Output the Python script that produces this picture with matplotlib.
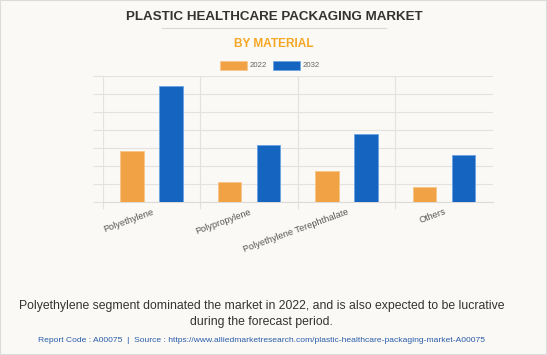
import matplotlib
matplotlib.use("Agg")
import matplotlib.pyplot as plt
import numpy as np
from matplotlib.patches import Rectangle
from matplotlib.lines import Line2D

categories = ["Polyethylene", "Polypropylene", "Polyethylene Terephthalate", "Others"]
series_names = ["2022", "2032"]
values_2022 = [2.82, 1.08, 1.73, 0.84]
values_2032 = [6.46, 3.17, 3.79, 2.60]

W, H = 547, 355
BG = "#faf9f5"
GRID = "#e3e2de"
ORANGE = "#f0a244"
BLUE = "#1565c0"

plt.rcParams["font.family"] = ["Liberation Sans", "DejaVu Sans"]

fig = plt.figure(figsize=(W / 100, H / 100), dpi=100, facecolor=BG)

def fx(px):
    return px / W

def fy(py):
    return 1 - py / H

# border
fig.add_artist(Rectangle((0, 0), 1, 1, transform=fig.transFigure, fill=False,
                         edgecolor="#dcdcdc", linewidth=1.5))

# title
fig.text(fx(274), fy(17.5), "PLASTIC HEALTHCARE PACKAGING MARKET", ha="center", va="center",
         fontsize=9.6, fontweight="heavy", color="#333333")
fig.add_artist(Line2D([fx(162), fx(386)], [fy(28.3), fy(28.3)], transform=fig.transFigure,
                      color="#d9d9d9", linewidth=0.8))
fig.text(fx(274), fy(44), "BY MATERIAL", ha="center", va="center",
         fontsize=8.6, fontweight="bold", color="#f5a623")

# axes
left, right = 103, 492.7
top, bottom = 76, 201.7
ax = fig.add_axes([fx(left), fy(bottom), fx(right - left), (bottom - top) / H])
ax.set_facecolor(BG)

x = np.arange(len(categories))
bw = 0.243
off = 0.2
ax.bar(x - off, values_2022, bw, color=ORANGE, edgecolor="#f7c68a", linewidth=0.6,
       label=series_names[0], zorder=3)
ax.bar(x + off, values_2032, bw, color=BLUE, edgecolor="#6aa3e3", linewidth=0.6,
       label=series_names[1], zorder=3)

ax.set_xlim(-0.5, 3.5)
ax.set_ylim(0, 7)
ax.set_yticks(np.arange(0, 8))
ax.yaxis.grid(True, color=GRID, linewidth=0.8, zorder=0)
ax.tick_params(axis="y", length=7, width=0.8, color=GRID, labelleft=False)

# category boundaries
bounds = [-0.5, 0.5, 1.5, 2.5]
for b in bounds:
    ax.axvline(b, color=GRID, linewidth=0.8, zorder=0)
ax.set_xticks(bounds, minor=True)
ax.tick_params(axis="x", which="minor", length=5, width=0.8, color=GRID)
ax.set_xticks(x)
ax.set_xticklabels(categories, rotation=20, ha="right", rotation_mode="anchor",
                   fontsize=6.6, color="#555555")
ax.tick_params(axis="x", which="major", length=0, pad=4)

for s in ["top", "right", "left"]:
    ax.spines[s].set_visible(False)
ax.spines["bottom"].set_color("#dcdbd7")
ax.spines["bottom"].set_linewidth(0.8)

# legend (manual, centered)
fig.add_artist(Rectangle((fx(220.3), fy(70.3)), fx(27), (70.3 - 61.3) / H,
                         transform=fig.transFigure, facecolor=ORANGE, edgecolor="#f7c68a", linewidth=0.5))
fig.text(fx(250), fy(65.8), series_names[0], ha="left", va="center", fontsize=5.6, color="#666666")
fig.add_artist(Rectangle((fx(273.3), fy(70.3)), fx(27), (70.3 - 61.3) / H,
                         transform=fig.transFigure, facecolor=BLUE, edgecolor="#6aa3e3", linewidth=0.5))
fig.text(fx(303), fy(65.8), series_names[1], ha="left", va="center", fontsize=5.6, color="#666666")

# footer
fig.text(fx(261.5), fy(306), "Polyethylene segment dominated the market in 2022, and is also expected to be lucrative",
         ha="center", va="center", fontsize=8.8, color="#333333")
fig.text(fx(261.5), fy(321.5), "during the forecast period.",
         ha="center", va="center", fontsize=8.8, color="#333333")
fig.text(fx(262), fy(340), "Report Code : A00075  |  Source : https://www.alliedmarketresearch.com/plastic-healthcare-packaging-market-A00075",
         ha="center", va="center", fontsize=6.1, color="#2a5caa")

fig.savefig("out.png", dpi=100, facecolor=BG)
